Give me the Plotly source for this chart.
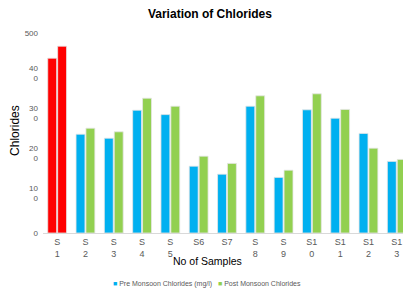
import plotly.graph_objects as go

samples = ["S1", "S2", "S3", "S4", "S5", "S6", "S7", "S8", "S9", "S10", "S11", "S12", "S13"]
tick_labels = ["S<br>1", "S<br>2", "S<br>3", "S<br>4", "S<br>5", "S6", "S7", "S<br>8", "S<br>9",
               "S1<br>0", "S1<br>1", "S1<br>2", "S1<br>3"]
pre_monsoon = [437, 247, 237, 307, 296, 167, 147, 317, 139, 308, 287, 249, 179]
post_monsoon = [467, 262, 253, 337, 317, 192, 174, 343, 157, 348, 309, 212, 184]
y_tick_vals = [0, 100, 200, 300, 400, 500]
y_tick_text = ["0", "10<br>0", "20<br>0", "30<br>0", "40<br>0", "500"]

pre_colors = ["#FF0000"] + ["#00B0F0"] * (len(samples) - 1)
post_colors = ["#FF0000"] + ["#92D050"] * (len(samples) - 1)

fig = go.Figure()
fig.add_trace(go.Bar(x=samples, y=pre_monsoon, name="Pre Monsoon Chlorides (mg/l)",
                     marker=dict(color=pre_colors, line=dict(color="#E6E6E6", width=0.8))))
fig.add_trace(go.Bar(x=samples, y=post_monsoon, name="Post Monsoon Chlorides",
                     marker=dict(color=post_colors, line=dict(color="#E6E6E6", width=0.8))))

fig.update_layout(
    width=403, height=290,
    margin=dict(l=43, r=0, t=33, b=57, autoexpand=False),
    paper_bgcolor="white", plot_bgcolor="white",
    font=dict(family="Liberation Sans, Arial, sans-serif", color="#595959", size=9),
    barmode="group", bargap=0.3, bargroupgap=0.1,
    title=dict(text="<b>Variation of Chlorides</b>", x=0.521, xanchor="center",
               y=1 - 14 / 290, yanchor="middle", font=dict(size=12, color="#000000")),
    showlegend=False,
    xaxis=dict(range=[-0.5, 12.22], tickmode="array", tickvals=samples, ticktext=tick_labels,
               showgrid=False, showline=True, linecolor="#D9D9D9", linewidth=1, automargin=False,
               ticks="", tickfont=dict(size=9, color="#595959"), fixedrange=True),
    yaxis=dict(range=[0, 500], tickmode="array", tickvals=y_tick_vals, ticktext=y_tick_text,
               showgrid=False, zeroline=False, showline=False, ticks="", automargin=False,
               ticklabelstandoff=4,
               tickfont=dict(size=8, color="#595959"), fixedrange=True),
    annotations=[
        dict(text="No of Samples", xref="paper", yref="paper", x=0.458, y=-0.14,
             xanchor="center", yanchor="middle", showarrow=False,
             font=dict(size=10.5, color="#000000")),
        dict(text="Chlorides", xref="paper", yref="paper", x=-0.078, y=0.515,
             xanchor="center", yanchor="middle", textangle=-90, showarrow=False,
             font=dict(size=12, color="#000000")),
        dict(text="<span style='color:#00B0F0'>■</span> Pre Monsoon Chlorides (mg/l)   "
                  "<span style='color:#92D050'>■</span> Post Monsoon Chlorides",
             xref="paper", yref="paper", x=0.455, y=-0.255, xanchor="center", yanchor="middle",
             showarrow=False, font=dict(size=7, color="#595959")),
    ],
)

fig.write_html("out.html", config={"displayModeBar": False},
               post_script="document.body.style.margin='0';document.body.style.overflow='hidden';")
